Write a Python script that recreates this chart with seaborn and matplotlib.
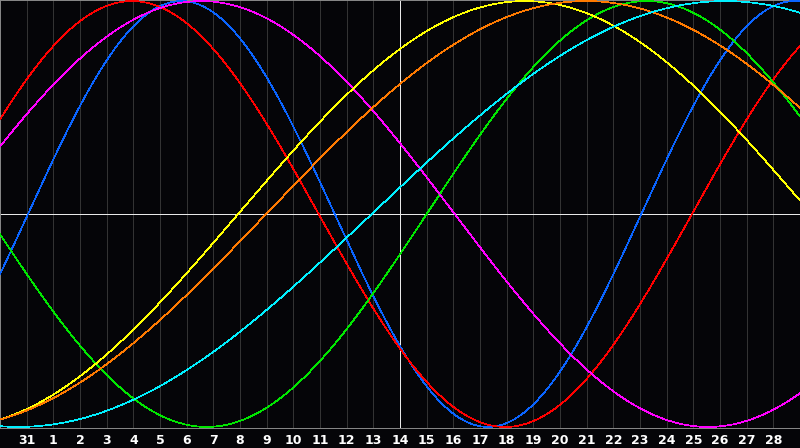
import numpy as np
import pandas as pd
import seaborn as sns
import matplotlib.pyplot as plt

# biorhythm cycles
cycles = ['physical', 'emotional', 'intellectual', 'intuitive', 'aesthetic', 'awareness', 'spiritual']
periods = [23, 28, 33, 38, 43, 48, 53]            # days
zero_up = [1.05, 25.95, 16.0, -1.95, 8.93, 9.98, 13.94]   # day index of upward zero crossing
colors = ['#0a64ff', '#ff0000', '#00e600', '#ff00ff', '#ffff00', '#ff7a00', '#00f0ff']

day_labels = ['31'] + [str(d) for d in range(1, 29)]
day_pos = list(range(1, 30))
today = 15  # position of the "14" line

t = np.linspace(0, 30, 1601)
rows = []
for name, p, z in zip(cycles, periods, zero_up):
    rows.append(pd.DataFrame({'day': t, 'value': np.sin(2 * np.pi * (t - z) / p), 'cycle': name}))
df = pd.concat(rows, ignore_index=True)

sns.set_style('dark')
plt.rcParams['font.family'] = ['DejaVu Sans']

fig = plt.figure(figsize=(8, 4.48), dpi=100, facecolor='#050508')
ax = fig.add_axes([0, 20 / 448, 1, 428 / 448])
ax.set_facecolor('#050508')

for p in day_pos:
    ax.axvline(p, color='#e8e8e8' if p == today else '#333333', lw=0.7, zorder=1, antialiased=False)
ax.axhline(0, color='#e8e8e8', lw=0.7, zorder=1, antialiased=False)

sns.lineplot(data=df, x='day', y='value', hue='cycle', hue_order=cycles,
             palette=colors, linewidth=0.5, legend=False, ax=ax, zorder=3)
for ln in ax.get_lines()[-len(cycles):]:
    ln.set_antialiased(False)
    ln.set_linewidth(0.5)

ax.set_xlim(0, 30)
ax.set_ylim(-1.005, 1.005)
ax.set_xticks(day_pos)
ax.set_xticklabels(day_labels, color='white', fontsize=9, fontweight='bold')
ax.set_yticks([])
ax.tick_params(axis='x', length=0, pad=4)
ax.set_xlabel('')
ax.set_ylabel('')
ax.grid(False)
for s in ax.spines.values():
    s.set_visible(True)
    s.set_color('#8a8a8a')
    s.set_linewidth(0.7)

fig.savefig('out.png', dpi=100, facecolor=fig.get_facecolor())
